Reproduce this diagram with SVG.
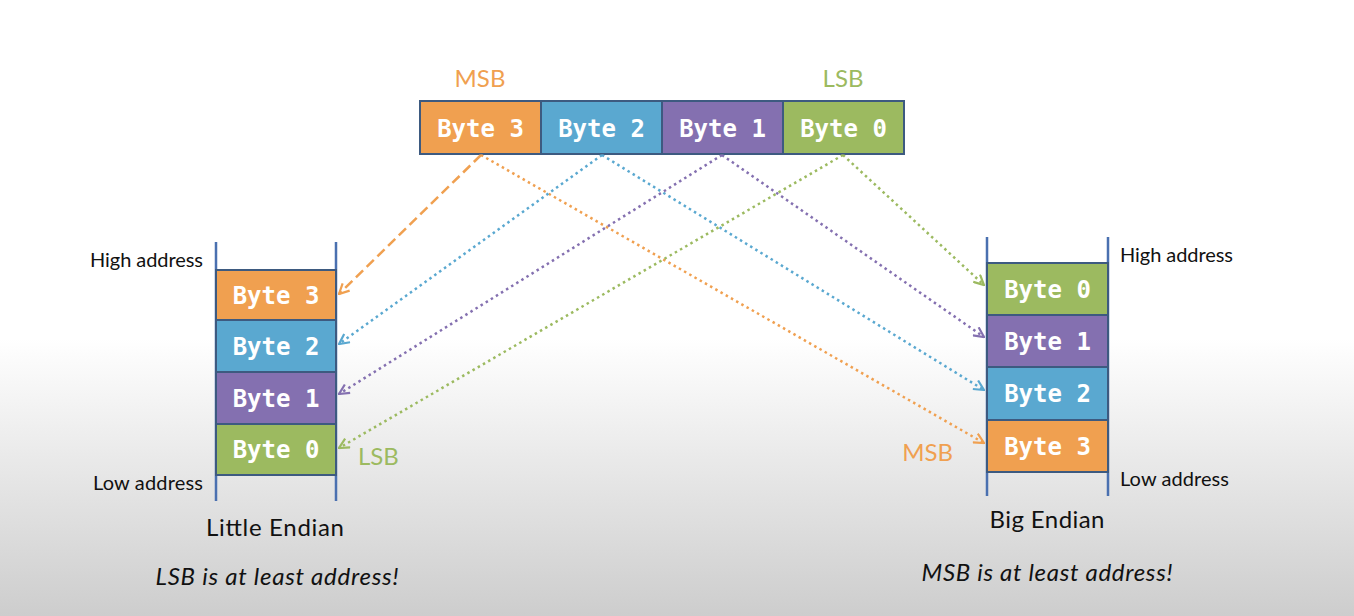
<svg xmlns="http://www.w3.org/2000/svg" width="1354" height="616" viewBox="0 0 1354 616">
<defs>
<linearGradient id="bg" x1="0" y1="0" x2="0" y2="1">
<stop offset="0" stop-color="#ffffff"/>
<stop offset="0.55" stop-color="#ffffff"/>
<stop offset="1" stop-color="#cdcdcd"/>
</linearGradient>
<marker id="aO" viewBox="0 0 12 12" refX="11" refY="6" markerWidth="12" markerHeight="12" markerUnits="userSpaceOnUse" orient="auto"><path d="M1,1 L11,6 L1,11" fill="none" stroke="#f0a050" stroke-width="2.2"/></marker>
<marker id="aB" viewBox="0 0 12 12" refX="11" refY="6" markerWidth="12" markerHeight="12" markerUnits="userSpaceOnUse" orient="auto"><path d="M1,1 L11,6 L1,11" fill="none" stroke="#5aa8d0" stroke-width="2.2"/></marker>
<marker id="aP" viewBox="0 0 12 12" refX="11" refY="6" markerWidth="12" markerHeight="12" markerUnits="userSpaceOnUse" orient="auto"><path d="M1,1 L11,6 L1,11" fill="none" stroke="#8470b0" stroke-width="2.2"/></marker>
<marker id="aG" viewBox="0 0 12 12" refX="11" refY="6" markerWidth="12" markerHeight="12" markerUnits="userSpaceOnUse" orient="auto"><path d="M1,1 L11,6 L1,11" fill="none" stroke="#9cba60" stroke-width="2.2"/></marker>
</defs>
<style>
.cell{stroke:#3d5a80;stroke-width:2}
.o{fill:#f0a050}.b{fill:#5aa8d0}.p{fill:#8470b0}.g{fill:#9cba60}
.bt{font-family:"DejaVu Sans Mono","Liberation Mono",monospace;font-weight:bold;font-size:24px;fill:#ffffff;text-anchor:middle}
.lbl{font-family:Lato,"Open Sans",sans-serif;font-size:20px;fill:#111}
.ttl{font-family:Lato,"Open Sans",sans-serif;font-size:24px;fill:#111;text-anchor:middle}
.it{font-family:Lato,"Open Sans",sans-serif;font-style:italic;font-size:24px;fill:#111;text-anchor:middle}
.sb{font-family:Lato,"Open Sans",sans-serif;font-size:24px}
.rail{stroke:#4a70b0;stroke-width:2.5}
.c{fill:none;stroke-width:2.5;stroke-dasharray:2.5 3.5}
</style>
<rect width="1354" height="616" fill="url(#bg)"/>

<g id="top-word">
<rect class="cell o" x="420" y="101" width="121" height="53"/>
<rect class="cell b" x="541" y="101" width="121" height="53"/>
<rect class="cell p" x="662" y="101" width="121" height="53"/>
<rect class="cell g" x="783" y="101" width="121" height="53"/>
<text class="bt" x="480.5" y="137">Byte 3</text>
<text class="bt" x="601.5" y="137">Byte 2</text>
<text class="bt" x="722.5" y="137">Byte 1</text>
<text class="bt" x="843.5" y="137">Byte 0</text>
<text class="sb" x="480" y="87" text-anchor="middle" fill="#f0a050">MSB</text>
<text class="sb" x="843" y="87" text-anchor="middle" fill="#9cba60">LSB</text>
</g>

<g id="little-endian">
<line class="rail" x1="216" y1="242" x2="216" y2="501"/>
<line class="rail" x1="336" y1="242" x2="336" y2="501"/>
<rect class="cell o" x="216" y="270" width="120" height="50"/>
<rect class="cell b" x="216" y="320" width="120" height="52"/>
<rect class="cell p" x="216" y="372" width="120" height="52"/>
<rect class="cell g" x="216" y="424" width="120" height="51"/>
<text class="bt" x="276" y="304">Byte 3</text>
<text class="bt" x="276" y="355">Byte 2</text>
<text class="bt" x="276" y="407">Byte 1</text>
<text class="bt" x="276" y="458">Byte 0</text>
<text class="lbl" x="203" y="267" text-anchor="end" textLength="113">High address</text>
<text class="lbl" x="203" y="490" text-anchor="end" textLength="110">Low address</text>
<text class="sb" x="358" y="465" fill="#9cba60">LSB</text>
<text class="ttl" x="275" y="536" textLength="138">Little Endian</text>
<text class="it" x="277" y="585" textLength="243">LSB is at least address!</text>
</g>

<g id="big-endian">
<line class="rail" x1="987" y1="237" x2="987" y2="496"/>
<line class="rail" x1="1108" y1="237" x2="1108" y2="496"/>
<rect class="cell g" x="987" y="263" width="121" height="52"/>
<rect class="cell p" x="987" y="315" width="121" height="52"/>
<rect class="cell b" x="987" y="367" width="121" height="53"/>
<rect class="cell o" x="987" y="420" width="121" height="52"/>
<text class="bt" x="1047.5" y="298">Byte 0</text>
<text class="bt" x="1047.5" y="350">Byte 1</text>
<text class="bt" x="1047.5" y="402">Byte 2</text>
<text class="bt" x="1047.5" y="455">Byte 3</text>
<text class="lbl" x="1120" y="262" textLength="113">High address</text>
<text class="lbl" x="1120" y="486" textLength="109">Low address</text>
<text class="sb" x="953" y="461" text-anchor="end" fill="#f0a050">MSB</text>
<text class="ttl" x="1047" y="528" textLength="115">Big Endian</text>
<text class="it" x="1047" y="581" textLength="251">MSB is at least address!</text>
</g>

<g id="connectors">
<line x1="481" y1="155" x2="339" y2="294" fill="none" stroke="#f0a050" stroke-width="2.5" stroke-dasharray="10 5" marker-end="url(#aO)"/>
<line class="c" x1="481" y1="155" x2="984" y2="443" stroke="#f0a050" marker-end="url(#aO)"/>
<line class="c" x1="602" y1="155" x2="339" y2="344" stroke="#5aa8d0" marker-end="url(#aB)"/>
<line class="c" x1="602" y1="155" x2="984" y2="390" stroke="#5aa8d0" marker-end="url(#aB)"/>
<line class="c" x1="722" y1="155" x2="339" y2="394" stroke="#8470b0" marker-end="url(#aP)"/>
<line class="c" x1="722" y1="155" x2="984" y2="337" stroke="#8470b0" marker-end="url(#aP)"/>
<line class="c" x1="843" y1="155" x2="339" y2="448" stroke="#9cba60" marker-end="url(#aG)"/>
<line class="c" x1="843" y1="155" x2="984" y2="285" stroke="#9cba60" marker-end="url(#aG)"/>
</g>
</svg>
